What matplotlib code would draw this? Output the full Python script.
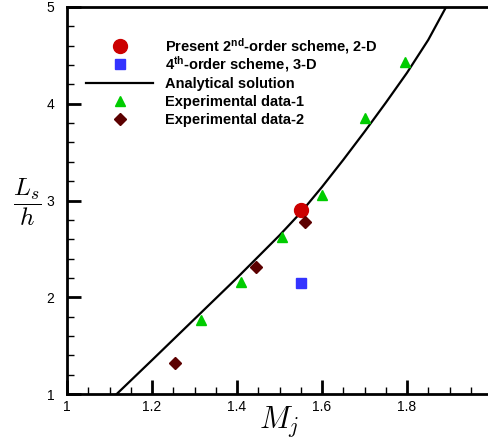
import matplotlib
matplotlib.use("Agg")
import matplotlib.pyplot as plt
from matplotlib.ticker import MultipleLocator

plt.rcParams["font.family"] = ["Liberation Sans", "DejaVu Sans"]
plt.rcParams["mathtext.fontset"] = "custom"
plt.rcParams["mathtext.rm"] = "Liberation Sans"
plt.rcParams["mathtext.bf"] = "Liberation Sans:bold"
plt.rcParams["mathtext.it"] = "Liberation Sans:italic"

# analytical solution
mach_an = [1.117, 1.2, 1.3, 1.4, 1.45, 1.5, 1.55, 1.6, 1.65, 1.7, 1.75, 1.8, 1.85, 1.892]
ls_an = [1.0, 1.35, 1.775, 2.20, 2.42, 2.64, 2.875, 3.14, 3.42, 3.71, 4.01, 4.32, 4.66, 5.0]

# simulations
mach_2d = [1.55]
ls_2d = [2.9]
mach_3d = [1.55]
ls_3d = [2.15]

# experiments
mach_exp1 = [1.315, 1.41, 1.505, 1.60, 1.70, 1.795]
ls_exp1 = [1.76, 2.16, 2.62, 3.06, 3.85, 4.43]
mach_exp2 = [1.255, 1.445, 1.56]
ls_exp2 = [1.32, 2.31, 2.78]

labels = ["Present 2$^{\\mathbf{nd}}$-order scheme, 2-D",
          "4$^{\\mathbf{th}}$-order scheme, 3-D",
          "Analytical solution",
          "Experimental data-1",
          "Experimental data-2"]

fig = plt.figure(figsize=(4.88, 4.41), dpi=100)
ax = fig.add_axes([67 / 488, 47 / 441, 425 / 488, 387 / 441])

styles = [
    dict(marker="o", color="#cc0000", ms=10, ls="none"),
    dict(marker="s", color="#3333ff", ms=7, ls="none"),
    dict(color="black", lw=1.6, ls="-"),
    dict(marker="^", color="#00cc00", ms=7.5, ls="none"),
    dict(marker="D", color="#5c0000", ms=6, ls="none"),
]

ax.plot(mach_2d, ls_2d, zorder=4, **styles[0])
ax.plot(mach_3d, ls_3d, zorder=4, **styles[1])
ax.plot(mach_an, ls_an, zorder=3, **styles[2])
ax.plot(mach_exp1, ls_exp1, zorder=4, **styles[3])
ax.plot(mach_exp2, ls_exp2, zorder=4, **styles[4])

ax.set_xlim(1, 2)
ax.set_ylim(1, 5)
ax.xaxis.set_minor_locator(MultipleLocator(0.05))
ax.yaxis.set_major_locator(MultipleLocator(1))
ax.yaxis.set_minor_locator(MultipleLocator(0.2))
ax.set_xticks([1, 1.2, 1.4, 1.6, 1.8, 2])
ax.set_xticklabels(["1", "1.2", "1.4", "1.6", "1.8", "2"])
ax.tick_params(which="both", direction="in", top=False, right=False, labelsize=10)
ax.tick_params(which="major", length=10, width=2, pad=4)
ax.tick_params(which="minor", length=5, width=1)
ax.tick_params(axis="y", pad=9)
for s in ax.spines.values():
    s.set_linewidth(2)

ax.set_xlabel("$M_j$", fontsize=22, math_fontfamily="cm", labelpad=-7)
fig.text(27 / 488, 1 - 202 / 441, r"$\dfrac{L_s}{h}$", fontsize=18,
         math_fontfamily="cm", ha="center", va="center")

# legend drawn by hand so the rows stay evenly spaced (tecplot style)
def ax_x(px):
    return (px - 67) / 425


def ax_y(py):
    return (394 - py) / 387


for i, (label, st) in enumerate(zip(labels, styles)):
    row = 46 + i * 18.3
    if st.get("marker") is None:
        ax.plot([ax_x(86), ax_x(153)], [ax_y(row)] * 2, transform=ax.transAxes,
                clip_on=False, **st)
    else:
        ax.plot([ax_x(120)], [ax_y(row)], transform=ax.transAxes,
                clip_on=False, **st)
    ax.text(ax_x(165), ax_y(row + 5), label, transform=ax.transAxes,
            fontsize=10.5, fontweight="bold", ha="left", va="baseline")

fig.savefig("out.png", dpi=100)
